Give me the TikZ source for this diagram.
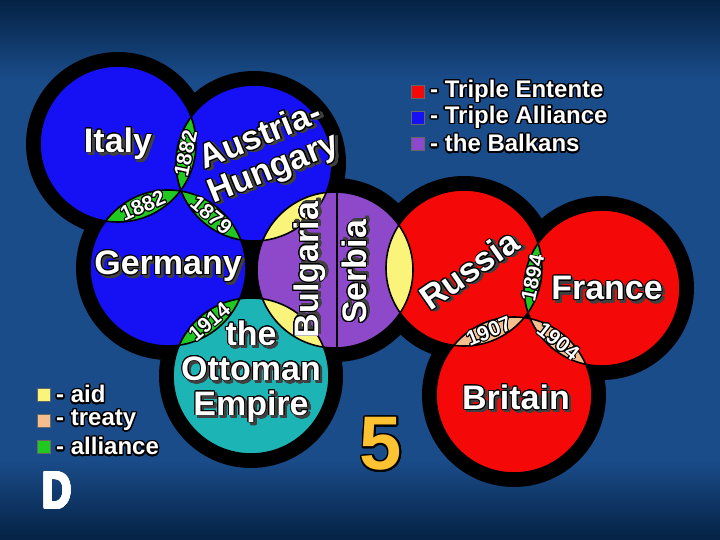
\documentclass[tikz,border=0pt]{standalone}
\usepackage{fontspec}
\setmainfont{Liberation Sans}
\usepackage{contour}
\contournumber{20}
\usetikzlibrary{calc,positioning}
\definecolor{bgtop}{RGB}{4,34,68}
\definecolor{bgmid}{RGB}{26,76,138}
\definecolor{entente}{RGB}{245,8,8}
\definecolor{triple}{RGB}{22,16,245}
\definecolor{balkan}{RGB}{142,72,202}
\definecolor{ottoman}{RGB}{28,180,180}
\definecolor{aid}{RGB}{250,244,122}
\definecolor{treaty}{RGB}{244,190,142}
\definecolor{pact}{RGB}{32,200,32}
\definecolor{five}{RGB}{252,194,50}
% white text, black edge, dark drop shadow
\newcommand\shtext[1]{\rlap{\kern2.5pt\raisebox{-2.5pt}{\color{black!75}\contour{black!75}{#1}}}\contour{black}{#1}}
\begin{document}
\begin{tikzpicture}
        [x=1pt,y=-1pt,
        country/.style ={text=white,inner sep=0pt,align=center,font={\contourlength{0.9pt}\fontsize{34}{35}\selectfont\bfseries}},
        year/.style ={text=white,inner sep=0pt,font={\contourlength{0.9pt}\fontsize{21}{21}\selectfont\bfseries}},
        keytext/.style ={text=white,inner sep=0pt,anchor=west,font={\contourlength{1.4pt}\fontsize{24}{24}\selectfont\bfseries}},
        swatch/.style ={draw=black!60,line width=1pt,minimum size=13pt,inner sep=0pt}]
        \useasboundingbox (0,0) rectangle (720,540);
        \fill[bgmid] (0,0) rectangle (720,540);
        \shade[top color=bgtop,bottom color=bgmid] (0,0) rectangle (720,80);
        \shade[top color=bgmid,bottom color=bgtop] (0,460) rectangle (720,540);
        % circles
        \foreach \n/\x/\y in {italy/118/144,austria/254/163,germany/168/268,balkans/335/270,
            turkey/251/376,russia/464/268,france/602/288,britain/514/395}
            \coordinate (\n) at (\x,\y);
        \foreach \n in {italy,austria,germany,balkans,turkey,russia,france,britain}
            \fill (\n) circle (92);
        \foreach \n/\c in {italy/triple,austria/triple,germany/triple,balkans/balkan,
            turkey/ottoman,russia/entente,france/entente,britain/entente}
            \fill[\c] (\n) circle (78);
        % overlaps
        \foreach \a/\b/\c in {italy/austria/pact,italy/germany/pact,austria/germany/pact,germany/turkey/pact,
            austria/balkans/aid,turkey/balkans/aid,balkans/russia/aid,
            russia/france/pact,russia/britain/treaty,france/britain/treaty}
            {\begin{scope}\clip (\a) circle (78); \fill[\c] (\b) circle (78);\end{scope}}
        \foreach \n in {italy,austria,germany,balkans,turkey,russia,france,britain}
            \draw[line width=1.6pt] (\n) circle (78);
        \draw[line width=2pt] ($(balkans)+(2,-78)$) -- ($(balkans)+(2,78)$);
        % names
        \node[country] (italy-lbl) at ($(italy)+(0,1)$) {\shtext{Italy}};
        \node[country,rotate=22] (austria-lbl) at ($(austria)+(14,-8)$) {\shtext{Austria-}\\\shtext{Hungary}};
        \node[country] (germany-lbl) at ($(germany)+(0,0)$) {\shtext{Germany}};
        \node[country,rotate=90] (bulgaria-lbl) at ($(balkans)+(-24,0)$) {\shtext{Bulgaria}};
        \node[country,rotate=90] (serbia-lbl) at ($(balkans)+(21,2)$) {\shtext{Serbia}};
        \node[country] (turkey-lbl) at ($(turkey)+(0,-3)$) {\shtext{the}\\\shtext{Ottoman}\\\shtext{Empire}};
        \node[country,rotate=35] (russia-lbl) at ($(russia)+(6,3)$) {\shtext{Russia}};
        \node[country] (france-lbl) at ($(france)+(5,2)$) {\shtext{France}};
        \node[country] (britain-lbl) at ($(britain)+(2,4)$) {\shtext{Britain}};
        % years
        \node[year,rotate=78] (y-ia) at ($(italy)!0.5!(austria)$) {\contour{black}{1882}};
        \node[year,rotate=24] (y-ig) at ($(italy)!0.5!(germany)$) {\contour{black}{1882}};
        \node[year,rotate=-40] (y-ag) at ($(austria)!0.5!(germany)$) {\contour{black}{1879}};
        \node[year,rotate=40] (y-gt) at ($(germany)!0.5!(turkey)$) {\contour{black}{1914}};
        \node[year,rotate=78] (y-rf) at ($(russia)!0.5!(france)$) {\contour{black}{1894}};
        \node[year,rotate=22] (y-rb) at ($(russia)!0.5!(britain)$) {\contour{black}{1907}};
        \node[year,rotate=-38] (y-fb) at ($(france)!0.5!(britain)$) {\contour{black}{1904}};
        % legends
        \node[swatch,fill=entente] (k-entente) at (418,92) {};
        \node[swatch,fill=triple] (k-triple)[below=12pt of k-entente]{};
        \node[swatch,fill=balkan] (k-balkan)[below=12pt of k-triple]{};
        \node[keytext] (t-entente)[right=5pt of k-entente]{\contour{black}{- Triple Entente}};
        \node[keytext] (t-triple)[right=5pt of k-triple]{\contour{black}{- Triple Alliance}};
        \node[keytext] (t-balkan)[right=5pt of k-balkan]{\contour{black}{- the Balkans}};
        \node[swatch,fill=aid] (k-aid) at (44,395) {};
        \node[swatch,fill=treaty] (k-treaty)[below=12pt of k-aid]{};
        \node[swatch,fill=pact] (k-pact)[below=12pt of k-treaty]{};
        \node[keytext] (t-aid)[right=5pt of k-aid]{\contour{black}{- aid}};
        \node[keytext] (t-treaty)[right=5pt of k-treaty]{\contour{black}{- treaty}};
        \node[keytext] (t-pact)[right=5pt of k-pact]{\contour{black}{- alliance}};
        \node[text=white,inner sep=0pt,xscale=0.78,font={\contourlength{1.2pt}\fontsize{52}{52}\selectfont\bfseries}] (letter) at (57,491) {\contour{white}{D}};
        \node[text=five,inner sep=0pt,font={\contourlength{1.8pt}\fontsize{76}{76}\selectfont\bfseries}] (number) at (381,445) {\contour{black}{5}};
    \end{tikzpicture}
\end{document}
